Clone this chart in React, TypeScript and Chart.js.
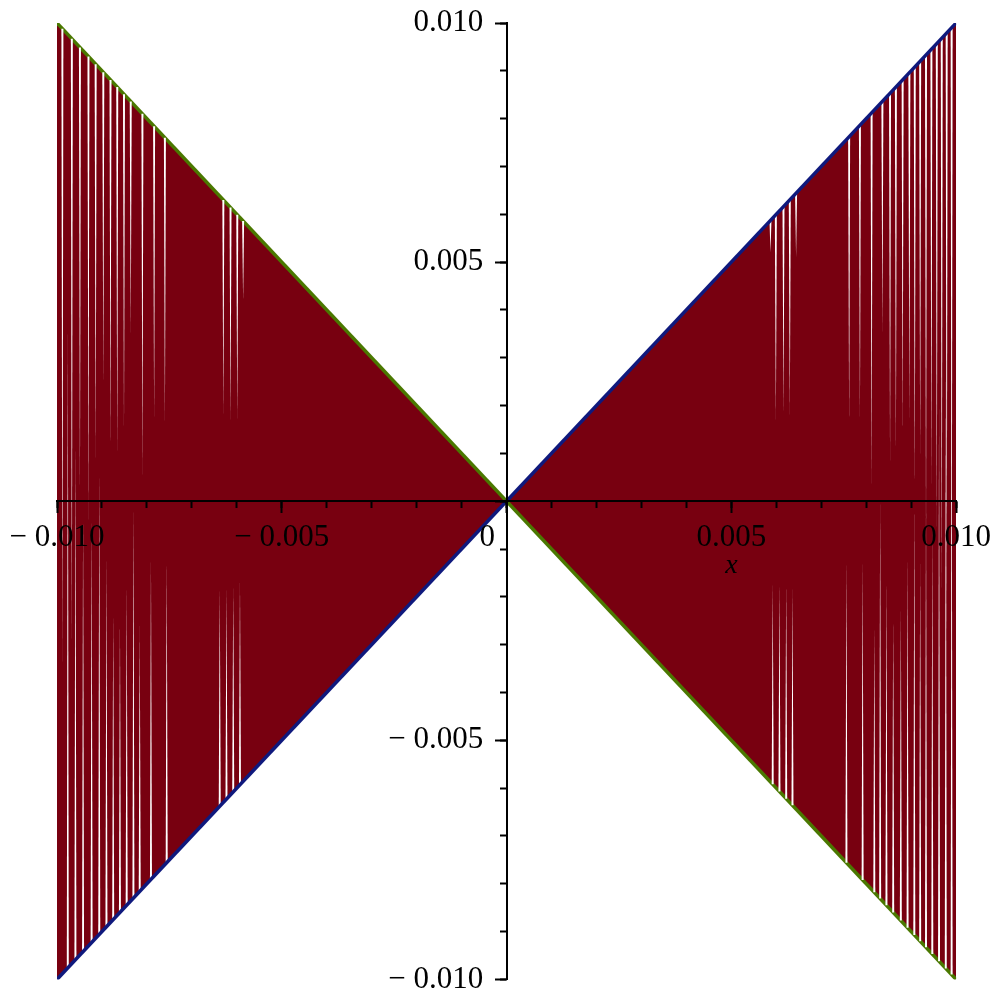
import React, { useEffect, useRef } from 'react';
import { Chart, registerables } from 'chart.js';

Chart.register(...registerables);

// ---- data ----
const xMin = -0.01;
const xMax = 0.01;
const yMin = -0.01;
const yMax = 0.01;

// the two bounding lines y = x and y = -x
const diagX = [-0.01, 0.01];
const upLineY = [-0.01, 0.01];
const downLineY = [0.01, -0.01];

// major tick values and labels
const majorTickValues = [-0.01, -0.005, 0, 0.005, 0.01];
const xTickLabels = ['\u2212 0.010', '\u2212 0.005', '0', '0.005', '0.010'];
const yTickLabels = ['\u2212 0.010', '\u2212 0.005', '', '0.005', '0.010'];
const majorStep = 0.005;
const minorStep = 0.001;
const xAxisTitle = 'x';
const xAxisTitleAt = 0.005;

// white gaps of the oscillating curve x*sin(1/x), hanging from the upper boundary |x|
const topGapX = [
  -0.00988, -0.00967, -0.00949, -0.0093, -0.00914, -0.00897, -0.00881, -0.00866, -0.00851,
  -0.00836, -0.0081, -0.00784, -0.0076, -0.0063, -0.00614, -0.00599, -0.00586,
  0.00587, 0.00599, 0.00616, 0.0063, 0.00644, 0.00762, 0.00786, 0.00812, 0.00836, 0.00853,
  0.00866, 0.00881, 0.00896, 0.00908, 0.0092, 0.00933, 0.00945, 0.00957, 0.00968, 0.00979, 0.0099,
];
const topGapEnd = [
  -0.0035, -0.003, 0.0002, -0.0004, 0.0009, 0.0024, 0.0011, 0.001, 0.0015,
  0.0035, 0.0005, 0.0017, 0.0016, 0.0018, 0.0017, 0.0017, 0.0042,
  0.0052, 0.0017, 0.0018, 0.0018, 0.0051, 0.0016, 0.0017, 0.0003, 0.0035, 0.0008,
  0.001, 0.0014, 0.0017, 0.0003, 0.001, -0.0006, 0.0003, -0.0006, -0.002, -0.003, -0.004,
];
// white gaps rising from the lower boundary -|x|
const bottomGapX = [
  -0.00976, -0.00959, -0.00942, -0.00923, -0.00906, -0.0089, -0.00875, -0.0086, -0.00845,
  -0.0083, -0.00816, -0.00791, -0.00756, -0.00638, -0.00623, -0.00608, -0.00593,
  0.00592, 0.00607, 0.00622, 0.00636, 0.00756, 0.00792, 0.00818, 0.00831, 0.00845, 0.0086,
  0.00877, 0.00892, 0.00907, 0.0092, 0.00933, 0.00947, 0.00962, 0.00977, 0.0099,
];
const bottomGapEnd = [
  0.0036, 0.0013, -0.0003, -0.0003, 0.0007, -0.0011, -0.0023, -0.0025, -0.0017,
  -0.0001, -0.0026, -0.0012, -0.0012, -0.0018, -0.0018, -0.0018, -0.0017,
  -0.0017, -0.0017, -0.0017, -0.0018, -0.0012, -0.0012, -0.0026, 0.0, -0.0016, -0.0024,
  -0.0022, -0.0011, 0.0, -0.0013, 0.0, -0.0005, 0.002, 0.0025, 0.003,
];

// ---- styles ----
const RED = '#780010';
const BLUE = '#0F197D';
const GREEN = '#4A7800';
const FONT = '"Liberation Serif", "Times New Roman", Times, serif';

function pick(v: number, values: number[], labels: string[]): string {
  const i = values.findIndex((t) => Math.abs(t - v) < 1e-9);
  return i >= 0 ? labels[i] : '';
}

export default function App() {
  const ref = useRef<HTMLCanvasElement | null>(null);

  useEffect(() => {
    if (!ref.current) return;
    const halfGap = 1.0 / 45000; // half width of a gap at its base (about 1 px)

    const datasets: any[] = [];
    // 0: y = x
    datasets.push({
      label: 'y = x',
      data: diagX.map((x, i) => ({ x, y: upLineY[i] })),
      borderColor: BLUE,
      borderWidth: 3.5,
      pointRadius: 0,
      fill: false,
      order: 0,
    });
    topGapX.forEach((x, i) => {
      const edge = Math.abs(x);
      datasets.push({
        data: [
          { x: x - halfGap, y: edge },
          { x: x + halfGap, y: edge },
          { x, y: topGapEnd[i] },
        ],
        fill: 'shape',
        backgroundColor: '#ffffff',
        borderWidth: 0,
        pointRadius: 0,
        order: 1,
      });
    });
    bottomGapX.forEach((x, i) => {
      const edge = -Math.abs(x);
      datasets.push({
        data: [
          { x: x - halfGap, y: edge },
          { x: x + halfGap, y: edge },
          { x, y: bottomGapEnd[i] },
        ],
        fill: 'shape',
        backgroundColor: '#ffffff',
        borderWidth: 0,
        pointRadius: 0,
        order: 1,
      });
    });
    // y = -x, with the dense oscillation filling the region between the two lines
    datasets.push({
      label: 'y = -x',
      data: diagX.map((x, i) => ({ x, y: downLineY[i] })),
      borderColor: GREEN,
      borderWidth: 3.5,
      pointRadius: 0,
      fill: { target: 0 },
      backgroundColor: RED,
      order: 2,
    });

    const tickFont = { family: FONT, size: 31 };
    const majorGrid = { drawOnChartArea: false, drawTicks: true, tickLength: 11, tickWidth: 2, tickColor: '#000', z: 1 };
    const minorGrid = { drawOnChartArea: false, drawTicks: true, tickLength: 7, tickWidth: 2, tickColor: '#000', z: 1 };

    const chart = new Chart(ref.current, {
      type: 'line',
      data: { datasets },
      options: {
        animation: false,
        responsive: false,
        devicePixelRatio: 1,
        layout: { padding: { left: 57, right: 41, top: 23, bottom: 18 } },
        plugins: { legend: { display: false }, tooltip: { enabled: false } },
        elements: { line: { tension: 0 } },
        scales: {
          x: {
            type: 'linear',
            min: xMin,
            max: xMax,
            position: { y: 0 } as any,
            grid: majorGrid,
            border: { display: true, color: '#000', width: 2, z: 1 },
            ticks: {
              z: 1,
              stepSize: majorStep,
              autoSkip: false,
              maxRotation: 0,
              padding: 7,
              color: '#000',
              font: tickFont,
              callback: (v: any) => {
                const s = pick(Number(v), majorTickValues, xTickLabels);
                return s === '0' ? s + '     ' : s;
              },
            },
          },
          x2: {
            type: 'linear',
            min: xMin,
            max: xMax,
            position: { y: 0 } as any,
            grid: minorGrid,
            border: { display: false },
            ticks: {
              z: 1,
              stepSize: minorStep,
              autoSkip: false,
              maxRotation: 0,
              padding: 41,
              color: '#000',
              font: { family: FONT, size: 28, style: 'italic' },
              callback: (v: any) => (Math.abs(Number(v) - xAxisTitleAt) < 1e-9 ? xAxisTitle : ''),
            },
          },
          y: {
            type: 'linear',
            min: yMin,
            max: yMax,
            position: { x: 0 } as any,
            grid: majorGrid,
            border: { display: true, color: '#000', width: 2, z: 1 },
            ticks: {
              z: 1,
              stepSize: majorStep,
              autoSkip: false,
              color: '#000',
              font: tickFont,
              callback: (v: any) => {
                const s = pick(Number(v), majorTickValues, yTickLabels);
                return s ? s + '   ' : '';
              },
            },
          },
          y2: {
            type: 'linear',
            min: yMin,
            max: yMax,
            position: { x: 0 } as any,
            grid: minorGrid,
            border: { display: false },
            ticks: {
              z: 1,
              stepSize: minorStep,
              autoSkip: false,
              callback: () => '',
            },
          },
        },
      } as any,
    });
    return () => chart.destroy();
  }, []);

  return (
    <div style={{ position: 'fixed', left: 0, top: 0, width: 998, height: 1001, background: '#fff' }}>
      <canvas ref={ref} width={998} height={1001} style={{ width: 998, height: 1001, display: 'block' }} />
    </div>
  );
}
